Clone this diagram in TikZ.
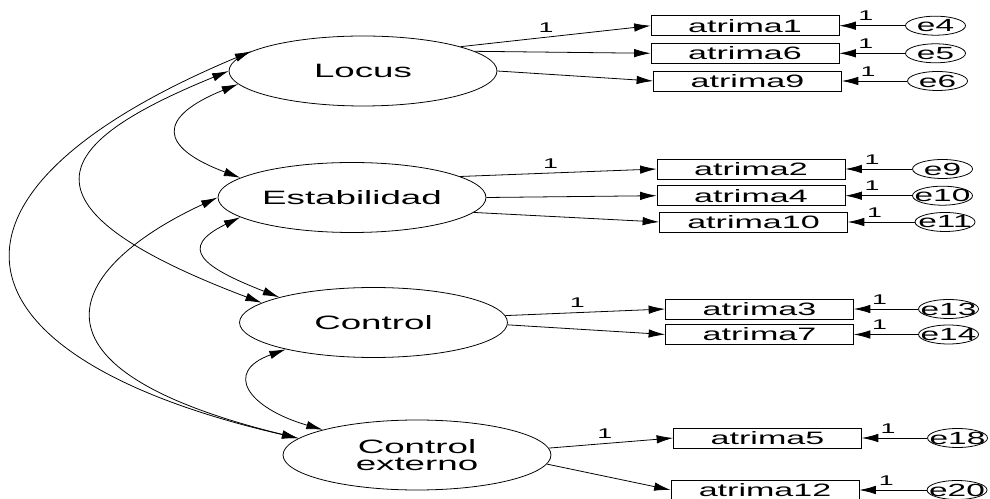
\documentclass[tikz,border=0pt]{standalone}
\usepackage{fontspec}
\setmainfont{Liberation Sans}[FakeStretch=1.9]
\usetikzlibrary{arrows.meta,shapes.geometric}

\tikzset{
  latent/.style={ellipse, draw, minimum width=5.36cm, minimum height=1.4cm,
    inner sep=0pt, font=\fontsize{11}{10}\selectfont},
  observed/.style={rectangle, draw, minimum width=3.76cm, minimum height=0.4cm,
    inner sep=0pt, font=\fontsize{10.2}{11}\selectfont},
  errvar/.style={ellipse, draw, minimum width=1.2cm, minimum height=0.38cm,
    inner sep=0pt},
  errlbl/.style={font=\fontsize{10}{11}\selectfont, inner sep=0pt},
  fixed/.style={font=\fontsize{8}{9}\selectfont, inner sep=0pt, above=2.6pt},
}

\begin{document}
\begin{tikzpicture}[x=0.02cm, y=-0.02cm, line width=0.45pt,
    >={Latex[length=3.3mm,width=1.7mm]}]
    \useasboundingbox (0,0) rectangle (990,499);

    % factores
    \node[latent] (locus) at (363,71) {Locus};
    \node[latent] (estab) at (352,197.5) {Estabilidad};
    \node[latent] (control) at (373.5,322.5) {Control};
    \node[latent, align=center] (ctrlext) at (417,455) {Control\\externo};

    % indicadores
    \node[observed] (atrima1) at (745,25.7) {atrima1};
    \node[observed] (atrima6) at (745,53.3) {atrima6};
    \node[observed] (atrima9) at (747.5,81) {atrima9};
    \node[observed] (atrima2) at (751,169) {atrima2};
    \node[observed] (atrima4) at (751,195.7) {atrima4};
    \node[observed] (atrima10) at (753.5,222) {atrima10};
    \node[observed] (atrima3) at (759.5,309) {atrima3};
    \node[observed] (atrima7) at (759.5,334.5) {atrima7};
    \node[observed] (atrima5) at (767.5,438) {atrima5};
    \node[observed] (atrima12) at (765,490) {atrima12};

    % errores
    \node[errvar, label={[errlbl]center:e4}] (e4) at (935.5,25.7) {};
    \node[errvar, label={[errlbl]center:e5}] (e5) at (935.5,53.3) {};
    \node[errvar, label={[errlbl]center:e6}] (e6) at (937.5,81) {};
    \node[errvar, label={[errlbl]center:e9}] (e9) at (942.5,169) {};
    \node[errvar, label={[errlbl]center:e10}] (e10) at (942.5,195.7) {};
    \node[errvar, label={[errlbl]center:e11}] (e11) at (945,222) {};
    \node[errvar, label={[errlbl]center:e13}] (e13) at (948.5,309) {};
    \node[errvar, label={[errlbl]center:e14}] (e14) at (948.5,334.5) {};
    \node[errvar, label={[errlbl]center:e18}] (e18) at (957.5,438) {};
    \node[errvar, label={[errlbl]center:e20}] (e20) at (957,490) {};

    % cargas
    \draw[->] (locus.14) -- node[fixed, pos=0.45] {1} (atrima1.west);
    \draw[->] (locus.10) -- (atrima6.west);
    \draw[->] (locus.0) -- (atrima9.west);
    \draw[->] (estab.11) -- node[fixed, pos=0.46] {1} (atrima2.west);
    \draw[->] (estab.0) -- (atrima4.west);
    \draw[->] (estab.-7) -- (atrima10.west);
    \draw[->] (control.3) -- node[fixed, pos=0.45] {1} (atrima3.west);
    \draw[->] (control.-1.5) -- (atrima7.west);
    \draw[->] (ctrlext.3) -- node[fixed, pos=0.45] {1} (atrima5.west);
    \draw[->] (ctrlext.-4.4) -- (atrima12.west);

    \draw[->] (e4.west) -- node[fixed, pos=0.6] {1} (atrima1.east);
    \draw[->] (e5.west) -- node[fixed, pos=0.6] {1} (atrima6.east);
    \draw[->] (e6.west) -- node[fixed, pos=0.6] {1} (atrima9.east);
    \draw[->] (e9.west) -- node[fixed, pos=0.6] {1} (atrima2.east);
    \draw[->] (e10.west) -- node[fixed, pos=0.6] {1} (atrima4.east);
    \draw[->] (e11.west) -- node[fixed, pos=0.6] {1} (atrima10.east);
    \draw[->] (e13.west) -- node[fixed, pos=0.6] {1} (atrima3.east);
    \draw[->] (e14.west) -- node[fixed, pos=0.6] {1} (atrima7.east);
    \draw[->] (e18.west) -- node[fixed, pos=0.6] {1} (atrima5.east);
    \draw[->] (e20.west) -- node[fixed, pos=0.6] {1} (atrima12.east);

    % covarianzas
    \draw[<->] (locus.186) .. controls (157,117) and (158,147) .. (estab.170);
    \draw[<->] (estab.190) .. controls (177,248) and (202,267) .. (control.165);
    \draw[<->] (control.197) .. controls (223,372) and (248,408) .. (ctrlext.165);
    \draw[<->] (locus.180) .. controls (60,140) and (-2,203) .. (control.170);
    \draw[<->] (estab.180) .. controls (78,262) and (-2,365) .. (ctrlext.172);
    \draw[<->] (locus.170) .. controls (-92,195) and (-54,357) .. (ctrlext.172);
\end{tikzpicture}
\end{document}
